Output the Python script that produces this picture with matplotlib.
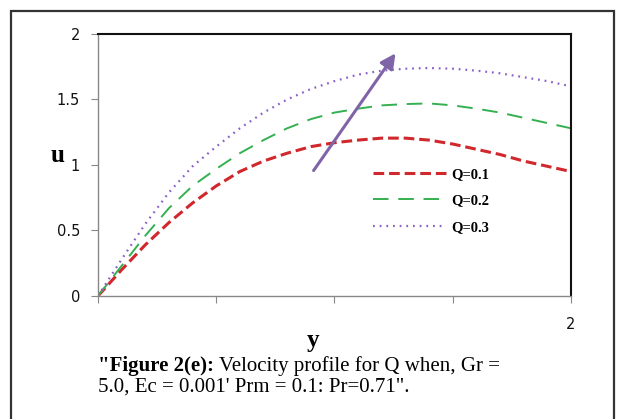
import matplotlib.pyplot as plt
from matplotlib.patches import Rectangle

y = [0, 0.1, 0.2, 0.3, 0.4, 0.5, 0.6, 0.7, 0.8, 0.9, 1.0,
     1.1, 1.2, 1.3, 1.4, 1.5, 1.6, 1.7, 1.8, 1.9, 2.0]

u_q01 = [0, 0.20, 0.39, 0.56, 0.71, 0.84, 0.95, 1.03, 1.09, 1.14, 1.17,
         1.19, 1.205, 1.205, 1.19, 1.16, 1.12, 1.08, 1.03, 0.99, 0.95]
u_q02 = [0, 0.23, 0.46, 0.67, 0.84, 0.97, 1.09, 1.19, 1.28, 1.35, 1.40,
         1.43, 1.455, 1.465, 1.47, 1.455, 1.43, 1.40, 1.36, 1.32, 1.28]
u_q03 = [0, 0.28, 0.55, 0.79, 0.99, 1.14, 1.28, 1.40, 1.50, 1.58, 1.64,
         1.69, 1.72, 1.735, 1.74, 1.735, 1.72, 1.70, 1.67, 1.64, 1.60]

labels = ['Q=0.1', 'Q=0.2', 'Q=0.3']

xticks = [0, 0.5, 1.0, 1.5, 2.0]
xtick_labels = ['', '', '', '', '2']
yticks = [0, 0.5, 1.0, 1.5, 2.0]
ytick_labels = ['0', '0.5', '1', '1.5', '2']

# arrow showing increasing Q
arrow_tail = (0.905, 0.94)
arrow_head = (1.265, 1.87)

fig = plt.figure(figsize=(6.24, 4.19), dpi=100)
ax = fig.add_axes([0.157, 0.2936, 0.758, 0.6253])

ax.plot(y, u_q01, color='#D0282C', lw=2.2, dashes=(3.5, 1.6), label=labels[0])
ax.plot(y, u_q02, color='#35B050', lw=1.4, dashes=(8, 5), label=labels[1])
ax.plot(y, u_q03, color='#8A5FC8', lw=1.6, dashes=(0.8, 2.2), label=labels[2])

ax.annotate('', xy=arrow_head, xytext=arrow_tail,
            arrowprops=dict(arrowstyle='-|>,head_length=0.9,head_width=0.45',
                            color='#8064A8', lw=2.2))

ax.set_xlim(0, 2)
ax.set_ylim(0, 2)
ax.set_xticks(xticks)
ax.set_xticklabels(xtick_labels)
ax.set_yticks(yticks)
ax.set_yticklabels(ytick_labels)
ax.tick_params(axis='both', direction='out', length=5, color='#888888',
               labelsize=10.5, labelcolor='#111111')
ax.tick_params(axis='y', pad=8)
ax.tick_params(axis='x', pad=10)

for s in ['left', 'bottom']:
    ax.spines[s].set_color('#888888')
    ax.spines[s].set_linewidth(1.0)
for s in ['top', 'right']:
    ax.spines[s].set_color('#111111')
    ax.spines[s].set_linewidth(1.5)

leg = ax.legend(loc='upper left', bbox_to_anchor=(0.581, 0.489), frameon=False,
                handlelength=5.0, handletextpad=0.35, borderpad=0, borderaxespad=0,
                labelspacing=0.9,
                prop={'family': 'Liberation Serif', 'size': 10.5, 'weight': 'bold'})

fig.text(0.093, 0.63, 'u', family='Liberation Serif', weight='bold', fontsize=18,
         ha='center', va='center')
fig.text(0.502, 0.188, 'y', family='Liberation Serif', weight='bold', fontsize=18,
         ha='center', va='center')

cap_size = 15
cap_bold = fig.text(0.157, 0.126, '"Figure 2(e):', family='Liberation Serif',
                    weight='bold', fontsize=cap_size, va='center')
fig.canvas.draw()
bb = cap_bold.get_window_extent(fig.canvas.get_renderer())
x_next = (bb.x1 + 5) / fig.bbox.width
fig.text(x_next, 0.126, 'Velocity profile for Q when, Gr =', family='Liberation Serif',
         fontsize=cap_size, va='center')
fig.text(0.157, 0.076, '5.0, Ec = 0.001\' Prm = 0.1: Pr=0.71".',
         family='Liberation Serif', fontsize=cap_size, va='center')

fig.patches.append(Rectangle((0.0176, -0.02), 0.966, 0.9937, transform=fig.transFigure,
                             fill=False, edgecolor='#333333', lw=1.6))

fig.savefig('out.png', dpi=100)
